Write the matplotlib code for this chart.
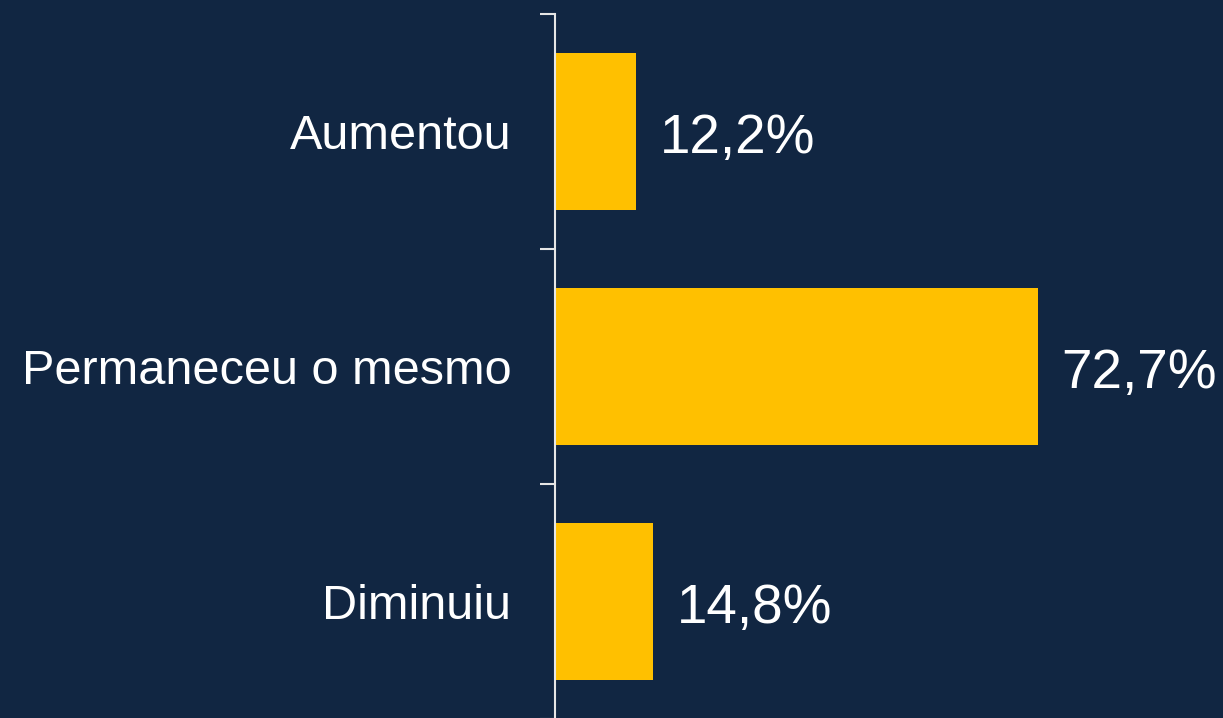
import matplotlib
matplotlib.use("Agg")
import matplotlib.pyplot as plt
from matplotlib.ticker import FixedLocator

categories = ["Aumentou", "Permaneceu o mesmo", "Diminuiu"]
values = [12.2, 72.7, 14.8]
labels = ["12,2%", "72,7%", "14,8%"]

BG = "#112642"
BAR = "#FFC000"
AX = "#E6E6E6"

plt.rcParams['font.family'] = ['Liberation Sans', 'DejaVu Sans']

W, H = 1223, 718
fig = plt.figure(figsize=(W / 100, H / 100), dpi=100, facecolor=BG)
ax = fig.add_axes([555 / W, -1 / H, (W - 555) / W, 705 / H])
ax.set_facecolor(BG)

pos = list(range(len(categories)))
ax.barh(pos, values, height=0.667, color=BAR)
ax.set_ylim(2.5, -0.5)
ax.set_xlim(0, (W - 555) / 6.64)

for p, v, t in zip(pos, values, labels):
    ax.text(v + 3.6, p + 0.03, t, va='center', ha='left', color='white', fontsize=39.5)

ax.yaxis.set_major_locator(FixedLocator([-0.5, 0.5, 1.5, 2.5]))
ax.yaxis.set_minor_locator(FixedLocator(pos))
ax.set_yticklabels([], minor=False)
ax.set_yticklabels(categories, minor=True)
ax.tick_params(axis='y', which='major', length=10.8, width=1.5, color=AX, direction='out')
ax.tick_params(axis='y', which='minor', length=0, pad=31.5, labelsize=35, labelcolor='white')
ax.set_xticks([])

for s in ['top', 'right', 'bottom']:
    ax.spines[s].set_visible(False)
ax.spines['left'].set_color(AX)
ax.spines['left'].set_linewidth(1.5)

fig.savefig("out.png", dpi=100, facecolor=BG)
